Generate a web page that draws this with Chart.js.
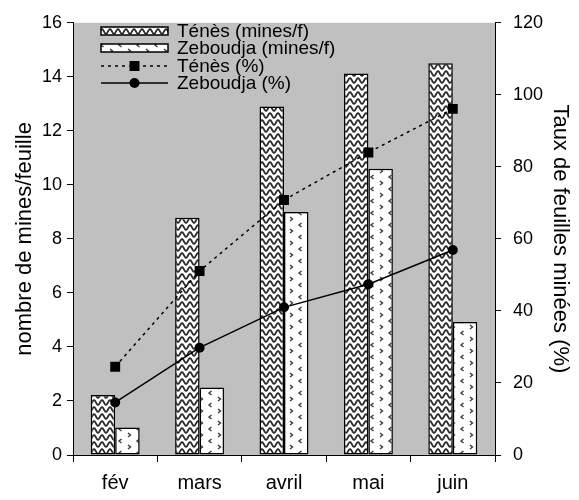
<!DOCTYPE html>
<html>
<head>
<meta charset="utf-8">
<script src="https://cdn.jsdelivr.net/npm/chart.js@4"></script>
<style>
html,body{margin:0;padding:0;background:#fff;}
#wrap{width:579px;height:500px;position:relative;}
</style>
</head>
<body>
<div id="wrap"><canvas id="c"></canvas></div>
<script>
// ---- data ----
const months = ["fév", "mars", "avril", "mai", "juin"];
const tenesMines = [2.22, 8.78, 12.9, 14.12, 14.5];
const zeboudjaMines = [1.02, 2.5, 9.0, 10.6, 4.92];
const tenesPct = [24.5, 51.1, 70.8, 84.0, 96.1];
const zeboudjaPct = [14.6, 29.8, 41.0, 47.4, 56.9];
const seriesLabels = ["Ténès (mines/f)", "Zeboudja (mines/f)", "Ténès (%)", "Zeboudja (%)"];
const leftTicks = {min: 0, max: 16, step: 2};
const rightTicks = {min: 0, max: 120, step: 20};

const FONT = "'Liberation Sans', Arial, sans-serif";

function wavePattern() {
  const c = document.createElement('canvas');
  c.width = 8; c.height = 7;
  const g = c.getContext('2d');
  g.fillStyle = '#fff'; g.fillRect(0, 0, 8, 7);
  g.strokeStyle = '#2a2a2a'; g.lineWidth = 1.8;
  g.beginPath();
  for (let x = -1; x <= 9; x += 0.5) {
    const y = 3.5 + 2.3 * Math.sin((x / 8) * 2 * Math.PI);
    if (x === -1) g.moveTo(x, y); else g.lineTo(x, y);
  }
  g.stroke();
  return g.createPattern(c, 'repeat');
}
function dotPattern() {
  const c = document.createElement('canvas');
  c.width = 18; c.height = 12;
  const g = c.getContext('2d');
  g.fillStyle = '#fff'; g.fillRect(0, 0, 18, 12);
  g.strokeStyle = '#3a3a3a'; g.lineWidth = 1.4;
  g.beginPath();
  g.moveTo(2, 1); g.lineTo(4.5, 3); g.lineTo(2, 5);
  g.moveTo(13.5, 7); g.lineTo(11, 9); g.lineTo(13.5, 11);
  g.stroke();
  return g.createPattern(c, 'repeat');
}
const waveFill = wavePattern();
const dotFill = dotPattern();

const bgPlugin = {
  id: 'plotBg',
  beforeDraw(chart) {
    const {ctx, chartArea: a} = chart;
    ctx.save();
    ctx.fillStyle = '#c0c0c0';
    ctx.fillRect(a.left, a.top, a.right - a.left, a.bottom - a.top);
    ctx.restore();
  }
};

const legendPlugin = {
  id: 'innerLegend',
  afterDraw(chart) {
    const ctx = chart.ctx;
    const ds = chart.data.datasets;
    const x0 = 101, x1 = 168, tx = 177;
    const rows = [31, 48, 66, 83];
    ctx.save();
    ds.forEach((d, i) => {
      const y = rows[i];
      if (d.type === 'bar') {
        ctx.fillStyle = d.backgroundColor;
        ctx.fillRect(x0, y - 4, x1 - x0, 8);
        ctx.strokeStyle = '#000'; ctx.lineWidth = 1.5;
        ctx.strokeRect(x0, y - 4, x1 - x0, 8);
      } else {
        ctx.strokeStyle = '#000'; ctx.lineWidth = 1.5;
        ctx.setLineDash(d.borderDash || []);
        ctx.beginPath(); ctx.moveTo(x0, y); ctx.lineTo(x1, y); ctx.stroke();
        ctx.setLineDash([]);
        ctx.fillStyle = '#000';
        const cx = (x0 + x1) / 2;
        if (d.pointStyle === 'rect') ctx.fillRect(cx - 5, y - 5, 10, 10);
        else { ctx.beginPath(); ctx.arc(cx, y, 5, 0, Math.PI * 2); ctx.fill(); }
      }
      ctx.fillStyle = '#000';
      ctx.font = '19px ' + FONT;
      ctx.textBaseline = 'middle';
      ctx.textAlign = 'left';
      ctx.fillText(d.label, tx, y + 1);
    });
    ctx.restore();
  }
};

new Chart(document.getElementById('c'), {
  data: {
    labels: months,
    datasets: [
      {type: 'bar', label: seriesLabels[0], data: tenesMines, yAxisID: 'y', backgroundColor: waveFill,
       borderColor: '#000', borderWidth: 1.5, borderSkipped: false, order: 2,
       categoryPercentage: 0.58, barPercentage: 1},
      {type: 'bar', label: seriesLabels[1], data: zeboudjaMines, yAxisID: 'y', backgroundColor: dotFill,
       borderColor: '#000', borderWidth: 1.5, borderSkipped: false, order: 2,
       categoryPercentage: 0.58, barPercentage: 1},
      {type: 'line', label: seriesLabels[2], data: tenesPct, yAxisID: 'y1', borderColor: '#000',
       borderWidth: 1.5, borderDash: [3, 4], pointStyle: 'rect', pointRadius: 7, pointBackgroundColor: '#000',
       pointBorderColor: '#000', pointBorderWidth: 0, tension: 0, order: 0},
      {type: 'line', label: seriesLabels[3], data: zeboudjaPct, yAxisID: 'y1', borderColor: '#000',
       borderWidth: 1.5, pointStyle: 'circle', pointRadius: 5, pointBackgroundColor: '#000',
       pointBorderColor: '#000', pointBorderWidth: 0, tension: 0, order: 0}
    ]
  },
  options: {
    responsive: true, maintainAspectRatio: false, animation: false,
    layout: {padding: {top: 16, left: 0, right: 0, bottom: 0}},
    plugins: {legend: {display: false}, tooltip: {enabled: false}},
    scales: {
      x: {
        afterFit: s => { s.height = 45; },
        offset: true,
        grid: {offset: true, drawOnChartArea: false, drawTicks: true, tickLength: 7, color: '#000', lineWidth: 1},
        border: {display: true, color: '#000', width: 1},
        ticks: {color: '#000', font: {size: 20, family: FONT}, padding: 9}
      },
      y: {
        position: 'left', min: leftTicks.min, max: leftTicks.max,
        afterFit: s => { s.width = 73; },
        grid: {drawOnChartArea: false, tickLength: 6, color: '#000'},
        border: {display: true, color: '#000', width: 1},
        ticks: {stepSize: leftTicks.step, color: '#000', font: {size: 18, family: FONT}, padding: 5},
        title: {display: true, text: 'nombre de mines/feuille', color: '#000', font: {size: 22, family: FONT}, padding: {top: 12, bottom: 0}}
      },
      y1: {
        position: 'right', min: rightTicks.min, max: rightTicks.max,
        afterFit: s => { s.width = 84; },
        grid: {drawOnChartArea: false, tickLength: 6, color: '#000'},
        border: {display: true, color: '#000', width: 1},
        ticks: {stepSize: rightTicks.step, color: '#000', font: {size: 18, family: FONT}, padding: 12},
        title: {display: true, text: 'Taux de feuilles minées (%)', color: '#000', font: {size: 22, family: FONT}, padding: {top: 6, bottom: 0}}
      }
    }
  },
  plugins: [bgPlugin, legendPlugin]
});
</script>
</body>
</html>
